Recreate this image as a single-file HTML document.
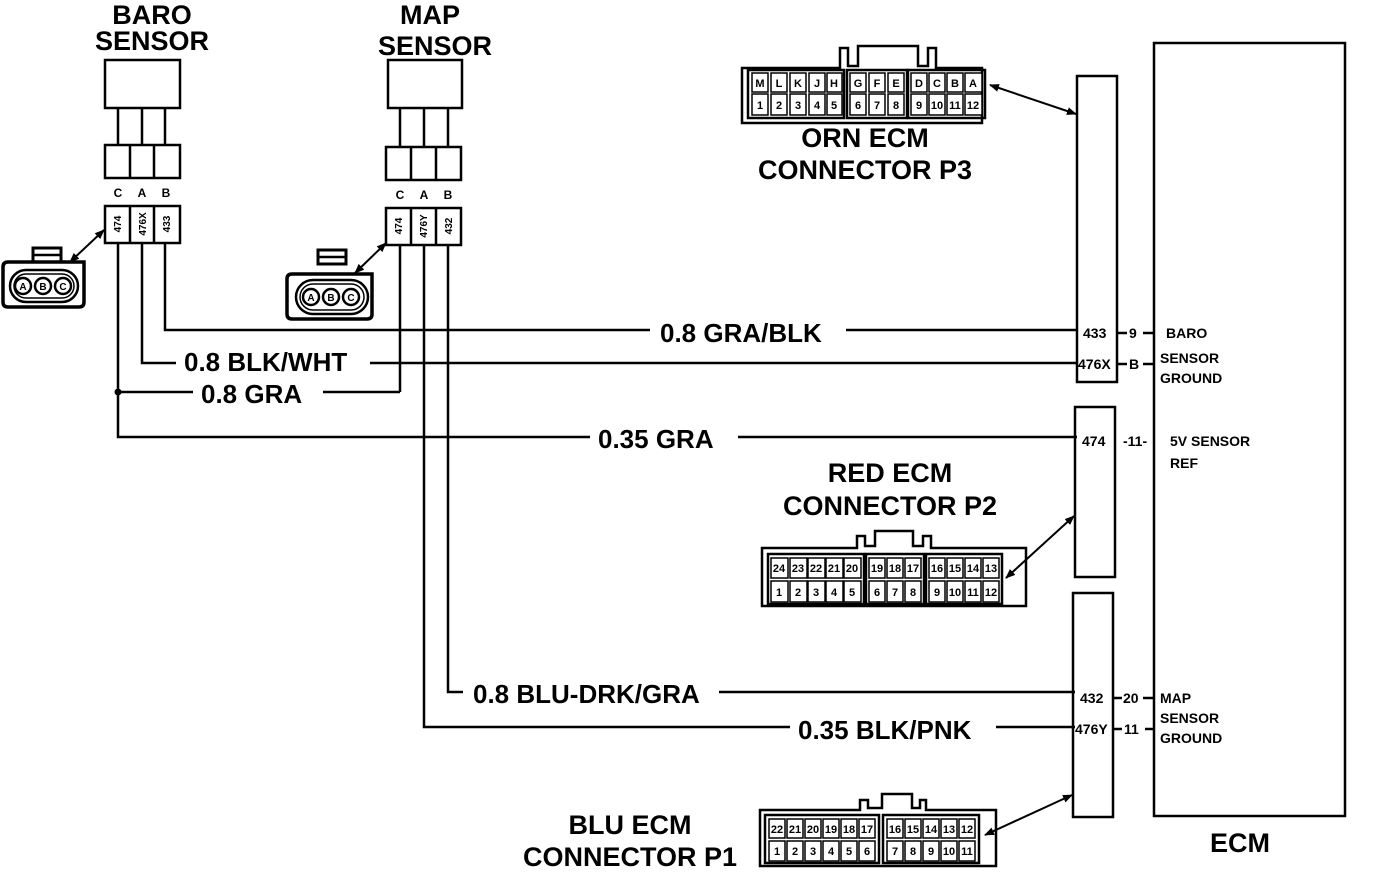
<!DOCTYPE html>
<html><head><meta charset="utf-8"><style>
html,body{margin:0;padding:0;background:#fff;}
svg{display:block;}
text{font-family:"Liberation Sans",sans-serif;font-weight:bold;fill:#000;}
.t{font-size:27px;}
.w{font-size:26px;}
.s{font-size:14px;}
.c{font-size:11px;text-anchor:middle;}
</style></head><body>
<svg width="1376" height="876" viewBox="0 0 1376 876" xmlns="http://www.w3.org/2000/svg">
<defs>
<marker id="ah" markerWidth="10" markerHeight="8" refX="9" refY="4" orient="auto" markerUnits="userSpaceOnUse"><path d="M0,0 L10,4 L0,8 Z" fill="#000"/></marker>
<marker id="as" markerWidth="10" markerHeight="8" refX="1" refY="4" orient="auto" markerUnits="userSpaceOnUse"><path d="M10,0 L0,4 L10,8 Z" fill="#000"/></marker>
</defs>
<g stroke="#000" fill="none" stroke-width="2.5">
<rect x="105" y="60" width="75" height="48"/>
<line x1="118" y1="108" x2="118" y2="145"/><line x1="142" y1="108" x2="142" y2="145"/><line x1="165" y1="108" x2="165" y2="145"/>
<rect x="105" y="145" width="75" height="33"/><line x1="130" y1="145" x2="130" y2="178"/><line x1="154" y1="145" x2="154" y2="178"/>
<rect x="105" y="206" width="75" height="37"/><line x1="130" y1="206" x2="130" y2="243"/><line x1="154" y1="206" x2="154" y2="243"/>
<rect x="388" y="60" width="74" height="48"/>
<line x1="400" y1="108" x2="400" y2="147"/><line x1="424" y1="108" x2="424" y2="147"/><line x1="448" y1="108" x2="448" y2="147"/>
<rect x="386" y="147" width="75" height="33"/><line x1="411" y1="147" x2="411" y2="180"/><line x1="436" y1="147" x2="436" y2="180"/>
<rect x="386" y="208" width="75" height="37"/><line x1="411" y1="208" x2="411" y2="245"/><line x1="436" y1="208" x2="436" y2="245"/>
<!-- small connectors -->
<path d="M8,262 h76 v40 q0,5 -5,5 h-71 q-5,0 -5,-5 v-35 q0,-5 5,-5z" stroke-width="3.5"/>
<rect x="33" y="248" width="28" height="14" stroke-width="3"/><line x1="33" y1="255" x2="61" y2="255"/>
<rect x="10" y="270" width="68" height="32" rx="16"/>
<rect x="14" y="274" width="60" height="24" rx="12" stroke-width="1.5"/>
<circle cx="23" cy="286" r="8"/><circle cx="43" cy="286" r="8"/><circle cx="63" cy="286" r="8"/>
<path d="M292,274 h80 v40 q0,5 -5,5 h-75 q-5,0 -5,-5 v-35 q0,-5 5,-5z" stroke-width="3.5"/>
<rect x="318" y="250" width="28" height="14" stroke-width="3"/><line x1="318" y1="257" x2="346" y2="257"/>
<rect x="296" y="280" width="72" height="34" rx="17"/>
<rect x="300" y="284" width="64" height="26" rx="13" stroke-width="1.5"/>
<circle cx="311" cy="297" r="8"/><circle cx="331" cy="297" r="8"/><circle cx="351" cy="297" r="8"/>
<polyline points="165,243 165,330 1077,330"/>
<polyline points="142,243 142,363 1077,363"/>
<polyline points="118,243 118,437 1077,437"/>
<line x1="118" y1="392" x2="400" y2="392"/>
<polyline points="400,245 400,392"/>
<polyline points="448,245 448,692 1075,692"/>
<polyline points="424,245 424,727 1075,727"/>
<rect x="1077" y="76" width="40" height="306"/>
<rect x="1075" y="407" width="40" height="170"/>
<rect x="1073" y="593" width="40" height="224"/>
<rect x="1154" y="43" width="191" height="773"/>
<line x1="1117" y1="333" x2="1127" y2="333"/><line x1="1143" y1="333" x2="1154" y2="333"/>
<line x1="1117" y1="364" x2="1127" y2="364"/><line x1="1143" y1="364" x2="1154" y2="364"/>
<line x1="1113" y1="698" x2="1122" y2="698"/><line x1="1143" y1="698" x2="1154" y2="698"/>
<line x1="1113" y1="729" x2="1122" y2="729"/><line x1="1145" y1="729" x2="1154" y2="729"/>
<path d="M742,68 h98 v-20 h8 v18 h10 v-20 h60 v20 h10 v-18 h8 v20 h46 v55 h-240z"/>
<rect x="748" y="70" width="96" height="48"/><rect x="847" y="70" width="60" height="48"/><rect x="908" y="70" width="77" height="48"/>
<path d="M762,548 h95 v-12 h8 v10 h10 v-15 h38 v15 h10 v-10 h8 v12 h95 v58 h-264z"/>
<rect x="768" y="554" width="96" height="50"/><rect x="866" y="554" width="58" height="50"/><rect x="926" y="554" width="76" height="50"/>
<path d="M760,810 h100 v-10 h8 v8 h14 v-14 h30 v14 h8 v-8 h6 v10 h70 v56 h-236z"/>
<rect x="765" y="815" width="114" height="48"/><rect x="883" y="815" width="96" height="48"/>
</g>
<g stroke="#000" stroke-width="2" fill="none">
<line x1="70" y1="262" x2="104" y2="230" marker-end="url(#ah)" marker-start="url(#as)"/>
<line x1="355" y1="273" x2="386" y2="243" marker-end="url(#ah)" marker-start="url(#as)"/>
<line x1="990" y1="85" x2="1076" y2="114" marker-end="url(#ah)" marker-start="url(#as)"/>
<line x1="1006" y1="578" x2="1074" y2="516" marker-end="url(#ah)" marker-start="url(#as)"/>
<line x1="985" y1="835" x2="1072" y2="795" marker-end="url(#ah)" marker-start="url(#as)"/>
</g>
<circle cx="118" cy="392" r="3.5" fill="#000"/>
<g fill="#fff">
<rect x="650" y="318" width="196" height="26"/>
<rect x="176" y="350" width="194" height="26"/>
<rect x="193" y="380" width="130" height="26"/>
<rect x="590" y="424" width="148" height="26"/>
<rect x="463" y="680" width="256" height="26"/>
<rect x="790" y="714" width="206" height="26"/>
</g>
<text class="t" x="152" y="24" text-anchor="middle">BARO</text>
<text class="t" x="152" y="50" text-anchor="middle">SENSOR</text>
<text class="t" x="430" y="24" text-anchor="middle">MAP</text>
<text class="t" x="435" y="55" text-anchor="middle">SENSOR</text>
<text class="t" x="865" y="147" text-anchor="middle">ORN ECM</text>
<text class="t" x="865" y="179" text-anchor="middle">CONNECTOR P3</text>
<text class="t" x="890" y="482" text-anchor="middle">RED ECM</text>
<text class="t" x="890" y="515" text-anchor="middle">CONNECTOR P2</text>
<text class="t" x="630" y="834" text-anchor="middle">BLU ECM</text>
<text class="t" x="630" y="866" text-anchor="middle">CONNECTOR P1</text>
<text class="t" x="1240" y="852" text-anchor="middle">ECM</text>
<text class="w" x="660" y="342">0.8 GRA/BLK</text>
<text class="w" x="184" y="371">0.8 BLK/WHT</text>
<text class="w" x="201" y="403">0.8 GRA</text>
<text class="w" x="598" y="448">0.35 GRA</text>
<text class="w" x="473" y="703">0.8 BLU-DRK/GRA</text>
<text class="w" x="798" y="739">0.35 BLK/PNK</text>
<g text-anchor="middle" style="font-size:12px">
<text x="118" y="197">C</text><text x="142" y="197">A</text><text x="166" y="197">B</text>
<text x="400" y="199">C</text><text x="424" y="199">A</text><text x="448" y="199">B</text>
</g>
<g style="font-size:10px" text-anchor="middle">
<text transform="translate(121,224) rotate(-90)">474</text>
<text transform="translate(146,224) rotate(-90)">476X</text>
<text transform="translate(170,224) rotate(-90)">433</text>
<text transform="translate(402,226) rotate(-90)">474</text>
<text transform="translate(427,226) rotate(-90)">476Y</text>
<text transform="translate(452,226) rotate(-90)">432</text>
<text x="23" y="290">A</text><text x="43" y="290">B</text><text x="63" y="290">C</text>
<text x="311" y="301">A</text><text x="331" y="301">B</text><text x="351" y="301">C</text>
</g>
<g class="s">
<text x="1083" y="338">433</text><text x="1129" y="338">9</text><text x="1166" y="338">BARO</text>
<text x="1078" y="369">476X</text><text x="1129" y="369">B</text><text x="1160" y="363">SENSOR</text><text x="1160" y="383">GROUND</text>
<text x="1082" y="446">474</text><text x="1123" y="446">-11-</text><text x="1170" y="446">5V SENSOR</text><text x="1170" y="468">REF</text>
<text x="1080" y="703">432</text><text x="1123" y="703">20</text><text x="1160" y="703">MAP</text><text x="1160" y="723">SENSOR</text><text x="1160" y="743">GROUND</text>
<text x="1075" y="734">476Y</text><text x="1124" y="734">11</text>
</g>
<g stroke="#000" stroke-width="1.5" fill="#fff">
<rect x="752" y="73" width="16" height="19"/><rect x="771" y="73" width="16" height="19"/><rect x="790" y="73" width="16" height="19"/><rect x="809" y="73" width="16" height="19"/><rect x="827" y="73" width="15" height="19"/>
<rect x="850" y="73" width="16" height="19"/><rect x="869" y="73" width="16" height="19"/><rect x="888" y="73" width="16" height="19"/>
<rect x="911" y="73" width="16" height="19"/><rect x="929" y="73" width="16" height="19"/><rect x="947" y="73" width="16" height="19"/><rect x="965" y="73" width="17" height="19"/>
<rect x="752" y="94" width="16" height="21"/><rect x="771" y="94" width="16" height="21"/><rect x="790" y="94" width="16" height="21"/><rect x="809" y="94" width="16" height="21"/><rect x="827" y="94" width="15" height="21"/>
<rect x="850" y="94" width="16" height="21"/><rect x="869" y="94" width="16" height="21"/><rect x="888" y="94" width="16" height="21"/>
<rect x="911" y="94" width="16" height="21"/><rect x="929" y="94" width="16" height="21"/><rect x="947" y="94" width="16" height="21"/><rect x="965" y="94" width="17" height="21"/>
</g>
<g class="c">
<text x="760" y="87">M</text><text x="779" y="87">L</text><text x="798" y="87">K</text><text x="817" y="87">J</text><text x="834" y="87">H</text>
<text x="858" y="87">G</text><text x="877" y="87">F</text><text x="896" y="87">E</text>
<text x="919" y="87">D</text><text x="937" y="87">C</text><text x="955" y="87">B</text><text x="973" y="87">A</text>
<text x="760" y="109">1</text><text x="779" y="109">2</text><text x="798" y="109">3</text><text x="817" y="109">4</text><text x="834" y="109">5</text>
<text x="858" y="109">6</text><text x="877" y="109">7</text><text x="896" y="109">8</text>
<text x="919" y="109">9</text><text x="937" y="109">10</text><text x="955" y="109">11</text><text x="973" y="109">12</text>
</g>
<g stroke="#000" stroke-width="1.5" fill="#fff">
<rect x="771" y="558" width="17" height="20"/><rect x="790" y="558" width="17" height="20"/><rect x="808" y="558" width="17" height="20"/><rect x="826" y="558" width="17" height="20"/><rect x="844" y="558" width="17" height="20"/>
<rect x="869" y="558" width="16" height="20"/><rect x="887" y="558" width="16" height="20"/><rect x="905" y="558" width="16" height="20"/>
<rect x="929" y="558" width="16" height="20"/><rect x="947" y="558" width="16" height="20"/><rect x="965" y="558" width="16" height="20"/><rect x="983" y="558" width="16" height="20"/>
<rect x="771" y="581" width="17" height="21"/><rect x="790" y="581" width="17" height="21"/><rect x="808" y="581" width="17" height="21"/><rect x="826" y="581" width="17" height="21"/><rect x="844" y="581" width="17" height="21"/>
<rect x="869" y="581" width="16" height="21"/><rect x="887" y="581" width="16" height="21"/><rect x="905" y="581" width="16" height="21"/>
<rect x="929" y="581" width="16" height="21"/><rect x="947" y="581" width="16" height="21"/><rect x="965" y="581" width="16" height="21"/><rect x="983" y="581" width="16" height="21"/>
</g>
<g class="c">
<text x="779" y="572">24</text><text x="798" y="572">23</text><text x="816" y="572">22</text><text x="834" y="572">21</text><text x="852" y="572">20</text>
<text x="877" y="572">19</text><text x="895" y="572">18</text><text x="913" y="572">17</text>
<text x="937" y="572">16</text><text x="955" y="572">15</text><text x="973" y="572">14</text><text x="991" y="572">13</text>
<text x="779" y="596">1</text><text x="798" y="596">2</text><text x="816" y="596">3</text><text x="834" y="596">4</text><text x="852" y="596">5</text>
<text x="877" y="596">6</text><text x="895" y="596">7</text><text x="913" y="596">8</text>
<text x="937" y="596">9</text><text x="955" y="596">10</text><text x="973" y="596">11</text><text x="991" y="596">12</text>
</g>
<g stroke="#000" stroke-width="1.5" fill="#fff">
<rect x="769" y="819" width="16" height="19"/><rect x="787" y="819" width="16" height="19"/><rect x="805" y="819" width="16" height="19"/><rect x="823" y="819" width="16" height="19"/><rect x="841" y="819" width="16" height="19"/><rect x="859" y="819" width="16" height="19"/>
<rect x="887" y="819" width="16" height="19"/><rect x="905" y="819" width="16" height="19"/><rect x="923" y="819" width="16" height="19"/><rect x="941" y="819" width="16" height="19"/><rect x="959" y="819" width="16" height="19"/>
<rect x="769" y="841" width="16" height="20"/><rect x="787" y="841" width="16" height="20"/><rect x="805" y="841" width="16" height="20"/><rect x="823" y="841" width="16" height="20"/><rect x="841" y="841" width="16" height="20"/><rect x="859" y="841" width="16" height="20"/>
<rect x="887" y="841" width="16" height="20"/><rect x="905" y="841" width="16" height="20"/><rect x="923" y="841" width="16" height="20"/><rect x="941" y="841" width="16" height="20"/><rect x="959" y="841" width="16" height="20"/>
</g>
<g class="c">
<text x="777" y="833">22</text><text x="795" y="833">21</text><text x="813" y="833">20</text><text x="831" y="833">19</text><text x="849" y="833">18</text><text x="867" y="833">17</text>
<text x="895" y="833">16</text><text x="913" y="833">15</text><text x="931" y="833">14</text><text x="949" y="833">13</text><text x="967" y="833">12</text>
<text x="777" y="855">1</text><text x="795" y="855">2</text><text x="813" y="855">3</text><text x="831" y="855">4</text><text x="849" y="855">5</text><text x="867" y="855">6</text>
<text x="895" y="855">7</text><text x="913" y="855">8</text><text x="931" y="855">9</text><text x="949" y="855">10</text><text x="967" y="855">11</text>
</g>
</svg>
</body></html>
